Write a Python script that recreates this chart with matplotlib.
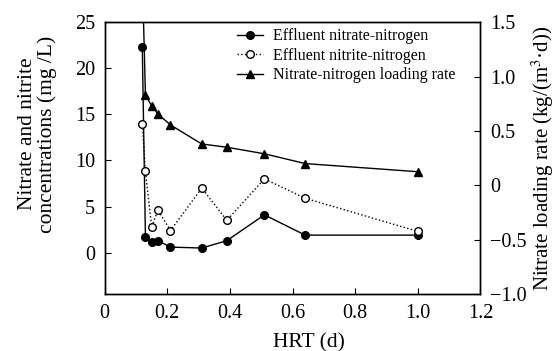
import matplotlib
matplotlib.use("Agg")
import matplotlib.pyplot as plt
from matplotlib.ticker import FuncFormatter

plt.rcParams['font.family'] = ['Liberation Serif', 'DejaVu Serif']
plt.rcParams['mathtext.fontset'] = 'stix'

# data
hrt = [0.12, 0.13, 0.15, 0.17, 0.21, 0.31, 0.39, 0.51, 0.64, 1.0]
nitrate = [22.3, 1.7, 1.1, 1.3, 0.6, 0.5, 1.3, 4.1, 1.9, 1.9]
nitrite = [13.9, 8.8, 2.8, 4.6, 2.4, 7.0, 3.5, 8.0, 5.9, 2.3]
loading = [1.95, 0.83, 0.73, 0.655, 0.555, 0.38, 0.35, 0.29, 0.2, 0.125]

fig = plt.figure(figsize=(5.6, 3.51), dpi=100)
ax = fig.add_axes([0.187, 0.162, 0.671, 0.775])
ax2 = ax.twinx()

l1, = ax.plot(hrt, nitrate, color='black', marker='o', markersize=5.5,
              linewidth=1.0, label='Effluent nitrate-nitrogen')
l2, = ax.plot(hrt, nitrite, color='black', marker='o', markersize=5.5,
              markerfacecolor='white', linestyle=':', linewidth=1.0,
              label='Effluent nitrite-nitrogen')
l3, = ax2.plot(hrt, loading, color='black', marker='^', markersize=6,
               linewidth=1.0, label='Nitrate-nitrogen loading rate')

ax.set_xlim(0, 1.2)
ax.set_ylim(-4.5, 25)
ax.set_xticks([0, 0.2, 0.4, 0.6, 0.8, 1.0, 1.2])
ax.set_yticks([0, 5, 10, 15, 20, 25])
ax.xaxis.set_major_formatter(FuncFormatter(lambda v, p: '0' if v == 0 else f'{v:.1f}'))

ax2.set_ylim(-1.0, 1.5)
ax2.set_yticks([-1.0, -0.5, 0, 0.5, 1.0, 1.5])
ax2.yaxis.set_major_formatter(FuncFormatter(
    lambda v, p: '0' if abs(v) < 1e-9 else f'{v:.1f}'.replace('-', '\u2212')))

for a in (ax, ax2):
    a.tick_params(direction='in', length=4, width=0.8, labelsize=14.5)
    for s in a.spines.values():
        s.set_linewidth(1.0)
ax.tick_params(axis='y', pad=7)
ax.tick_params(axis='x', pad=7)
ax2.tick_params(axis='y', pad=7)

ax.set_xlabel('HRT (d)', fontsize=15.5)
ax.xaxis.set_label_coords(0.544, -0.143)
ax.set_ylabel('Nitrate and nitrite\nconcentrations (mg /L)', fontsize=15.5,
              linespacing=1.0)
ax.yaxis.set_label_coords(-0.127, 0.588)
ax2.set_ylabel('Nitrate loading rate (kg/(m$^3$\u00b7d))', fontsize=15)
ax2.yaxis.set_label_coords(1.132, 0.5)

ax2.legend(handles=[l1, l2, l3], loc='upper left', bbox_to_anchor=(0.352, 0.978),
           frameon=False, fontsize=11.5, handlelength=1.65, handletextpad=0.6,
           labelspacing=0.22, borderaxespad=0, borderpad=0)

fig.savefig('out.png', dpi=100)
